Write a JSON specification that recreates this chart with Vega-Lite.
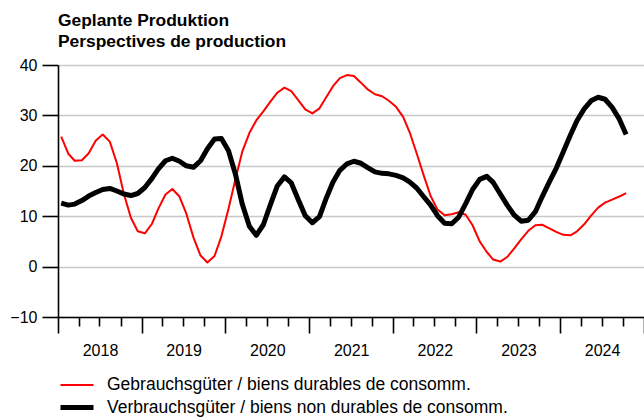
{
  "$schema": "https://vega.github.io/schema/vega-lite/v6.json",
  "width": 586,
  "height": 252,
  "autosize": "none",
  "padding": {"left": 58, "top": 65, "right": 0, "bottom": 102},
  "background": "white",
  "config": {"font": "Liberation Sans", "view": {"stroke": null}},
  "title": {
    "text": ["Geplante Produktion", "Perspectives de production"],
    "anchor": "start",
    "frame": "group",
    "fontSize": 17.4,
    "fontWeight": "bold",
    "lineHeight": 21,
    "offset": 7,
    "color": "black",
    "font": "Liberation Sans"
  },
  "datasets": {
    "g": [
      {"date": "2018-01-15", "value": 25.8}, {"date": "2018-02-15", "value": 22.4}, {"date": "2018-03-15", "value": 21.0}, {"date": "2018-04-15", "value": 21.1}, {"date": "2018-05-15", "value": 22.5}, {"date": "2018-06-15", "value": 25.0}, {"date": "2018-07-15", "value": 26.2}, {"date": "2018-08-15", "value": 24.8}, {"date": "2018-09-15", "value": 20.5}, {"date": "2018-10-15", "value": 14.5}, {"date": "2018-11-15", "value": 9.7}, {"date": "2018-12-15", "value": 7.0},
      {"date": "2019-01-15", "value": 6.6}, {"date": "2019-02-15", "value": 8.5}, {"date": "2019-03-15", "value": 11.5}, {"date": "2019-04-15", "value": 14.3}, {"date": "2019-05-15", "value": 15.4}, {"date": "2019-06-15", "value": 13.9}, {"date": "2019-07-15", "value": 10.5}, {"date": "2019-08-15", "value": 5.8}, {"date": "2019-09-15", "value": 2.2}, {"date": "2019-10-15", "value": 0.8}, {"date": "2019-11-15", "value": 2.1}, {"date": "2019-12-15", "value": 6.0},
      {"date": "2020-01-15", "value": 11.5}, {"date": "2020-02-15", "value": 17.5}, {"date": "2020-03-15", "value": 22.8}, {"date": "2020-04-15", "value": 26.5}, {"date": "2020-05-15", "value": 29.0}, {"date": "2020-06-15", "value": 30.8}, {"date": "2020-07-15", "value": 32.7}, {"date": "2020-08-15", "value": 34.5}, {"date": "2020-09-15", "value": 35.5}, {"date": "2020-10-15", "value": 34.8}, {"date": "2020-11-15", "value": 33.0}, {"date": "2020-12-15", "value": 31.2},
      {"date": "2021-01-15", "value": 30.4}, {"date": "2021-02-15", "value": 31.4}, {"date": "2021-03-15", "value": 33.5}, {"date": "2021-04-15", "value": 35.8}, {"date": "2021-05-15", "value": 37.4}, {"date": "2021-06-15", "value": 38.0}, {"date": "2021-07-15", "value": 37.8}, {"date": "2021-08-15", "value": 36.5}, {"date": "2021-09-15", "value": 35.1}, {"date": "2021-10-15", "value": 34.2}, {"date": "2021-11-15", "value": 33.8}, {"date": "2021-12-15", "value": 32.9},
      {"date": "2022-01-15", "value": 31.7}, {"date": "2022-02-15", "value": 29.7}, {"date": "2022-03-15", "value": 26.7}, {"date": "2022-04-15", "value": 22.5}, {"date": "2022-05-15", "value": 18.2}, {"date": "2022-06-15", "value": 14.0}, {"date": "2022-07-15", "value": 11.3}, {"date": "2022-08-15", "value": 10.2}, {"date": "2022-09-15", "value": 10.4}, {"date": "2022-10-15", "value": 10.8}, {"date": "2022-11-15", "value": 10.3}, {"date": "2022-12-15", "value": 8.2},
      {"date": "2023-01-15", "value": 5.0}, {"date": "2023-02-15", "value": 2.9}, {"date": "2023-03-15", "value": 1.4}, {"date": "2023-04-15", "value": 1.0}, {"date": "2023-05-15", "value": 1.9}, {"date": "2023-06-15", "value": 3.6}, {"date": "2023-07-15", "value": 5.4}, {"date": "2023-08-15", "value": 7.1}, {"date": "2023-09-15", "value": 8.2}, {"date": "2023-10-15", "value": 8.3}, {"date": "2023-11-15", "value": 7.6}, {"date": "2023-12-15", "value": 6.9},
      {"date": "2024-01-15", "value": 6.3}, {"date": "2024-02-15", "value": 6.2}, {"date": "2024-03-15", "value": 7.0}, {"date": "2024-04-15", "value": 8.4}, {"date": "2024-05-15", "value": 10.1}, {"date": "2024-06-15", "value": 11.7}, {"date": "2024-07-15", "value": 12.7}, {"date": "2024-08-15", "value": 13.3}, {"date": "2024-09-15", "value": 13.9}, {"date": "2024-10-15", "value": 14.6}
    ],
    "v": [
      {"date": "2018-01-15", "value": 12.6}, {"date": "2018-02-15", "value": 12.2}, {"date": "2018-03-15", "value": 12.4}, {"date": "2018-04-15", "value": 13.1}, {"date": "2018-05-15", "value": 14.0}, {"date": "2018-06-15", "value": 14.7}, {"date": "2018-07-15", "value": 15.3}, {"date": "2018-08-15", "value": 15.5}, {"date": "2018-09-15", "value": 15.0}, {"date": "2018-10-15", "value": 14.4}, {"date": "2018-11-15", "value": 14.1}, {"date": "2018-12-15", "value": 14.5},
      {"date": "2019-01-15", "value": 15.7}, {"date": "2019-02-15", "value": 17.5}, {"date": "2019-03-15", "value": 19.4}, {"date": "2019-04-15", "value": 21.0}, {"date": "2019-05-15", "value": 21.5}, {"date": "2019-06-15", "value": 20.9}, {"date": "2019-07-15", "value": 20.0}, {"date": "2019-08-15", "value": 19.7}, {"date": "2019-09-15", "value": 21.0}, {"date": "2019-10-15", "value": 23.4}, {"date": "2019-11-15", "value": 25.3}, {"date": "2019-12-15", "value": 25.4},
      {"date": "2020-01-15", "value": 23.0}, {"date": "2020-02-15", "value": 18.2}, {"date": "2020-03-15", "value": 12.4}, {"date": "2020-04-15", "value": 8.0}, {"date": "2020-05-15", "value": 6.2}, {"date": "2020-06-15", "value": 8.3}, {"date": "2020-07-15", "value": 12.2}, {"date": "2020-08-15", "value": 16.0}, {"date": "2020-09-15", "value": 17.8}, {"date": "2020-10-15", "value": 16.6}, {"date": "2020-11-15", "value": 13.2}, {"date": "2020-12-15", "value": 10.1},
      {"date": "2021-01-15", "value": 8.7}, {"date": "2021-02-15", "value": 9.9}, {"date": "2021-03-15", "value": 13.4}, {"date": "2021-04-15", "value": 16.8}, {"date": "2021-05-15", "value": 19.1}, {"date": "2021-06-15", "value": 20.4}, {"date": "2021-07-15", "value": 20.9}, {"date": "2021-08-15", "value": 20.5}, {"date": "2021-09-15", "value": 19.6}, {"date": "2021-10-15", "value": 18.8}, {"date": "2021-11-15", "value": 18.5}, {"date": "2021-12-15", "value": 18.4},
      {"date": "2022-01-15", "value": 18.1}, {"date": "2022-02-15", "value": 17.6}, {"date": "2022-03-15", "value": 16.8}, {"date": "2022-04-15", "value": 15.6}, {"date": "2022-05-15", "value": 13.9}, {"date": "2022-06-15", "value": 12.2}, {"date": "2022-07-15", "value": 10.1}, {"date": "2022-08-15", "value": 8.6}, {"date": "2022-09-15", "value": 8.5}, {"date": "2022-10-15", "value": 9.8}, {"date": "2022-11-15", "value": 12.5}, {"date": "2022-12-15", "value": 15.3},
      {"date": "2023-01-15", "value": 17.3}, {"date": "2023-02-15", "value": 17.9}, {"date": "2023-03-15", "value": 16.7}, {"date": "2023-04-15", "value": 14.4}, {"date": "2023-05-15", "value": 12.2}, {"date": "2023-06-15", "value": 10.2}, {"date": "2023-07-15", "value": 9.0}, {"date": "2023-08-15", "value": 9.2}, {"date": "2023-09-15", "value": 10.9}, {"date": "2023-10-15", "value": 13.9}, {"date": "2023-11-15", "value": 16.8}, {"date": "2023-12-15", "value": 19.5},
      {"date": "2024-01-15", "value": 22.8}, {"date": "2024-02-15", "value": 26.1}, {"date": "2024-03-15", "value": 29.0}, {"date": "2024-04-15", "value": 31.3}, {"date": "2024-05-15", "value": 32.9}, {"date": "2024-06-15", "value": 33.6}, {"date": "2024-07-15", "value": 33.2}, {"date": "2024-08-15", "value": 31.6}, {"date": "2024-09-15", "value": 29.3}, {"date": "2024-10-15", "value": 26.2}
    ]
  },
  "layer": [
    {
      "data": {"name": "g"},
      "mark": {"type": "line", "strokeJoin": "round"},
      "encoding": {
        "x": {"field": "date", "type": "temporal"},
        "y": {"field": "value", "type": "quantitative"},
        "color": {"datum": "Gebrauchsgüter / biens durables de consomm."},
        "strokeWidth": {"datum": "Gebrauchsgüter / biens durables de consomm."}
      }
    },
    {
      "data": {"name": "v"},
      "mark": {"type": "line", "strokeJoin": "round"},
      "encoding": {
        "x": {"field": "date", "type": "temporal"},
        "y": {"field": "value", "type": "quantitative"},
        "color": {"datum": "Verbrauchsgüter / biens non durables de consomm."},
        "strokeWidth": {"datum": "Verbrauchsgüter / biens non durables de consomm."}
      }
    }
  ],
  "resolve": {"scale": {"color": "shared", "strokeWidth": "shared"}},
  "encoding": {
    "x": {
      "field": "date",
      "type": "temporal",
      "scale": {"type": "utc", "domain": [{"year": 2018, "month": 1, "date": 1, "utc": true}, {"year": 2025, "month": 1, "date": 1, "utc": true}]},
      "axis": {
        "title": null,
        "grid": false,
        "tickCount": {"interval": "month", "step": 3},
        "tickSize": {"condition": {"test": "utcmonth(datum.value) === 0", "value": 16}, "value": 9},
        "tickColor": "black",
        "tickWidth": 1.6,
        "domainColor": "black",
        "domainWidth": 1.6,
        "labelExpr": "utcmonth(datum.value) === 0 && utcyear(datum.value) < 2025 ? utcFormat(datum.value, '%Y') : ''",
        "labelOffset": 42,
        "labelFontSize": 16,
        "labelColor": "black",
        "labelPadding": 9,
        "labelFlush": false,
        "labelOverlap": false,
        "labelBound": false
      }
    },
    "y": {
      "field": "value",
      "type": "quantitative",
      "scale": {"domain": [-10, 40], "nice": false, "zero": false},
      "axis": {
        "title": null,
        "values": [-10, 0, 10, 20, 30, 40],
        "tickSize": 16,
        "tickColor": "black",
        "tickWidth": 1.6,
        "domainColor": "black",
        "domainWidth": 1.6,
        "labelFontSize": 16,
        "labelColor": "black",
        "labelPadding": 5,
        "gridColor": "#c8c8c8",
        "gridWidth": 1.6
      }
    },
    "color": {
      "type": "nominal",
      "scale": {"domain": ["Gebrauchsgüter / biens durables de consomm.", "Verbrauchsgüter / biens non durables de consomm."], "range": ["#ff0000", "#000000"]},
      "legend": {
        "orient": "none",
        "legendX": 5.5,
        "legendY": 308,
        "title": null,
        "symbolType": "M-1.5,0H1.5",
        "symbolSize": 484,
        "labelFontSize": 17.5,
        "labelColor": "black",
        "labelOffset": 16.5,
        "rowPadding": 0,
        "labelLimit": 0,
        "padding": 0,
        "direction": "vertical"
      }
    },
    "strokeWidth": {
      "type": "nominal",
      "scale": {"domain": ["Gebrauchsgüter / biens durables de consomm.", "Verbrauchsgüter / biens non durables de consomm."], "range": [2, 5]},
      "legend": {
        "orient": "none",
        "legendX": 5.5,
        "legendY": 308,
        "title": null,
        "symbolType": "M-1.5,0H1.5",
        "symbolSize": 484,
        "labelFontSize": 17.5,
        "labelColor": "black",
        "labelOffset": 16.5,
        "rowPadding": 0,
        "labelLimit": 0,
        "padding": 0,
        "direction": "vertical"
      }
    }
  }
}
